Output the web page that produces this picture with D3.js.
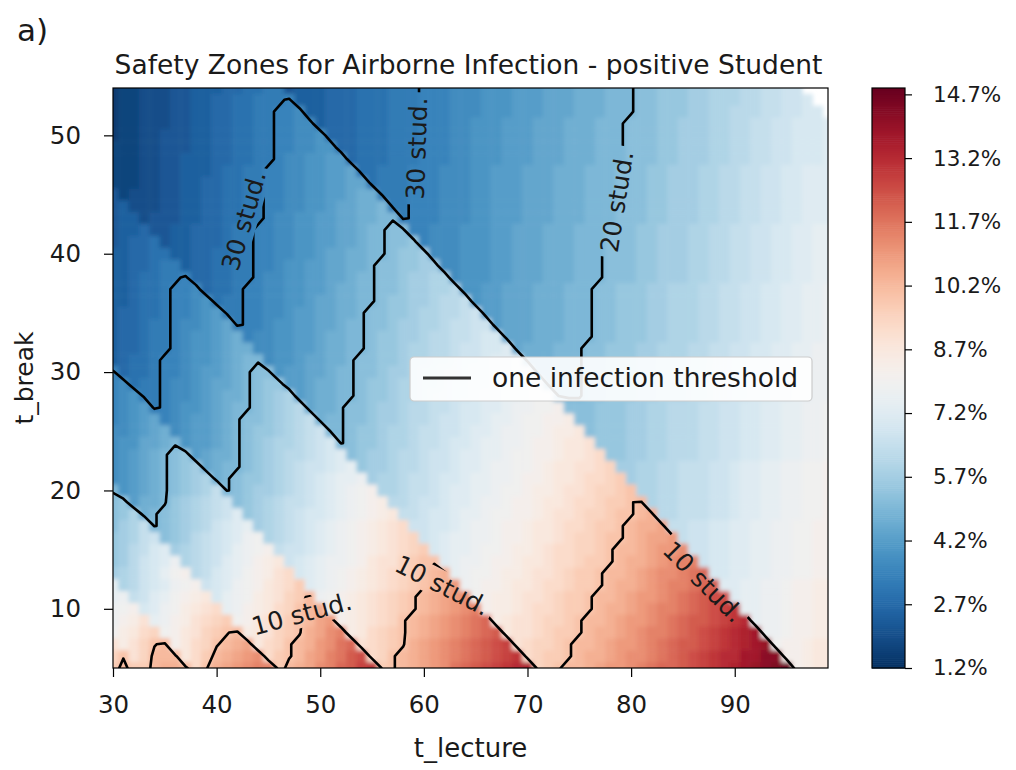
<!DOCTYPE html>
<html>
<head>
<meta charset="utf-8">
<script src="https://cdn.jsdelivr.net/npm/d3@7"></script>
<style>
  body { margin: 0; background: #fff; }
  text { font-family: "DejaVu Sans", sans-serif; fill: #1a1a1a; }
</style>
</head>
<body>
<svg id="chart" width="1016" height="770"></svg>
<script>
// Lecture length (columns) and break length (rows, top row = longest break), in minutes
const lectureMinutes = d3.range(30, 100);
const breakMinutes = d3.range(54, 4, -1);

// Infection risk per cell, one character per cell: risk = riskBase + riskStep * index in levelCodes.
// "." marks schedules that do not fit the day. Each row is written band by band
// (bands = number of lectures that fit into the school day).
const levelCodes = "0123456789ABCDEFGHIJKLMNOPQRSTUVWXYZabcdefghijklmnopqrstuvwxyz";
const riskBase = 1.2;
const riskStep = 0.25;
const riskRows = [
  "12233344555667788" + "4555666777888999AAABBBCCCDDDEEEFFFGGHHHIIJJJKKLLMM" + "...",
  "122333445566778889" + "555666777888999AAABBBCCCDDDEEEFFFGGHHHIIJJJKKLLMMN" + "..",
  "122333445566778899A" + "55666777888999AAABBBCCCDDDEEEFFFGGHHHIIJJKKKLLMMNN" + ".",
  "122333445566778899AA" + "5666777888999AABBBCCCDDDEEEFFFGGGHHIIIJJKKLLMMNNNO",
  "122334445566778899AAB" + "666777888999AABBBCCCDDDEEEFFFGGGHHIIIJJKKLLMMNNNO",
  "222334445566778899AABB" + "66777888999AABBBCCCDDDEEEFFFGGGHHIIIJJKKLLMMNNNO",
  "22233445556677889AABBCC" + "6777888999AABBBCCCDDDEEEFFFGGGHHIIIJJKKLLMMNNNO",
  "22233445556778899AABBCCD" + "77888999AAABBCCCDDDEEEFFFGGGHHIIIJJKKLLMMNNOOO",
  "22233445566778899AABBCCDD" + "7888999AAABBCCCDDDEEEFFFGGGHHIIIJJKKLLMMNNOOO",
  "4" + "2333445566778899AABBCCDEE" + "888999AAABBCCCDDDEEEFFFGGGHHIIIJJKKLLMMNNOOO",
  "45" + "333445566778899AABBCDDEEF" + "88999AAABBCCCDDDEEEFFFGGGHHIIIJJKKLLMMNNOOO",
  "455" + "3444556677889AABBCCDDEEFF" + "8999AAABBCCCDDDEEEFFFGGGHHIIIJJKKLLMMNNOOO",
  "4556" + "445566678899AABBCCDDEFFGG" + "99AAABBBCCDDDEEEFFFGGGHHIIIJJKKLLMMNNOOPP",
  "45667" + "45566678899AABBCCDDEFFGGH" + "9AAABBBCCDDDEEEFFFGGGHHIIIJJKKLLMMNNOOPP",
  "556677" + "5566778899AABBCDDEEFFGHHI" + "AAABBBCCDDDEEEFFFGGGHHIIIJJKKLLMMNNOOPP",
  "5566788" + "566778899ABBCCDDEEFGGHHII" + "AABBBCCDDDEEEFFFGGGHHIIIJJKKLLMMNNOOPP",
  "55677889" + "6677889AABBCCDDEFFGGHIIJJ" + "ABBBCCDDDEEEFFFGGGHHIIIJJKKLLMMNNOOPP",
  "55677899A" + "677899AABBCCDEEFFGGHIIJJK" + "BBCCDDDEEEFFFGGHHHIIJJJKKLLMMNNOOPPQ",
  "55677899AB" + "78899AABBCDDEEFFGHHIIJKKL" + "BCCDDDEEEFFFGGHHHIIJJJKKLLMMNNOOPPQ",
  "56677899ABC" + "8899AABCCDDEEFGGHHIJJKKLM" + "CCDDDEEEFFFGGHHHIIJJJKKLLMMNNOOPPQ",
  "5667889AABCD" + "899ABBCCDDEFFGGHIIJJKLLMM" + "CDDDEEEFFFGGHHHIIJJJKKLLMMNNOOPPQ",
  "5667889ABBCDE" + "9AABBCCDEEFFGHHIIJKKLLMNN" + "DDDEEEFFFGGHHHIIJJJKKLLMMNNOOPPQ",
  "5667889ABBCDEE" + "AABBCCDEEFFGHHIJJKKLMMNNO" + "DEEEFFFGGHHHIIJJJKKLLMMNNOOPPQQ",
  "5677899ABBCDEFF" + "ABBCDDEEFGGHHIJJKKLMMNOOP" + "EEEFFFGGHHHIIJJJKKLLMMNNOOPPQQ",
  "9" + "677899ABCCDEFGG" + "BCCDDEFFGGHIIJKKLLMNNOOPQ" + "EEFFFGGHHHIIJJJKKLLMMNNOOPPQQ",
  "9A" + "7889AABCDDEFGHH" + "CCDEEFFGHHIJJKKLMMNNOPPQQ" + "EFFFGGHHHIIJJJKKLLMMNNOOPPQQ",
  "9AB" + "889AABCDEEFGHIJ" + "CDEEFFGHHIJJKLLMMNOOPPQRR" + "FFFGGHHHIIJJJKKLLMMNNOOPPQQ",
  "9ABC" + "89ABBCDEFFGHIJK" + "DEEFGGHIIJKKLLMNNOOPQQRRS" + "GGGHHHIIJJKKKLLMMNNOOPPQQR",
  "9ABCD" + "9ABCCDEFGGHIJKL" + "EFFGGHIIJKKLMMNNOPPQRRSST" + "GGHHHIIJJKKKLLMMNNOOPPQQR",
  "AABCDE" + "ABCCDEFGHHIJKLM" + "FFGHHIJJKLLMMNOOPQQRRSTTU" + "GHHHIIJJKKKLLMMNNOOPPQQR",
  "ABBDDEF" + "BCCDEFGHIJJKLMN" + "FGHHIJJKLLMNNOPPQQRSSTUUV" + "HHHIIJJKKKLLMMNNOOPPQQR",
  "ABCDEFGH" + "CDEEFGHIJKKLMNO" + "GHIIJKKLMMNOOPPQRRSSTUUVW" + "HHIIJJKKKLLMMNNOOPPQQR",
  "ABCDEFGHI" + "DEFFGHIJKLMMNOP" + "HIIJKKLMMNOOPQQRRSTUUVVWX" + "IIJJKKLLLMMNOOPPQQRRS",
  "ABCDEFGHIJ" + "EFGHHIJKLMNOPPQ" + "IJJKLLMNNOPPQQRSSTUUVWWXY" + "IJJKKLLLMMNOOPPQQRRS",
  "F" + "BCDEFGHIJL" + "FGHIIJKLMNOPQRS" + "JJKLLMNOOPPQRRSTTUVVWXXYZ" + "JJKKLLLMMNOOPPQQRRS",
  "GH" + "CEEFHIJKLM" + "GHIJKLLMNOPQRST" + "KKLMMNOOPQQRSSTUUVWWXYYZa" + "JKKLLLMMNOOPPQQRRS",
  "GHJ" + "EFGHIJKLMO" + "HIJKLMNNOPQRSTU" + "LLMNNOPPQRRSSTUVVWXXYZZab" + "KKLLLMMNOOPPQQRRS",
  "GIJL" + "FGHIJKMNOP" + "IJKLMNOPQRSTUVW" + "MMNNOPQQRSSTUUVWWXYYZabbc" + "LLMMNNOOPPQQRRSS",
  "HIJLM" + "GHIKLMNOQR" + "JKLMNOPQRSTUVWX" + "MNOPPQQRSSTUUVWXXYZZabccd" + "LMMNNOOPPQQRRSS",
  "HIKLNO" + "IJKLMNPQRS" + "LMMNOPQRSTUVWXY" + "NOPPQRRSTTUVWWXXYZaabcdde" + "MMNNOOPPQQRRSS",
  "HIKMNOQ" + "JKLMOPQSTU" + "MNOPQQRSUVVXYZZ" + "OPQQRSSTUUVWWXYYZabbcdeff" + "MNNOOPPQQRRSS",
  "IJKMNPRS" + "KLNOPRSTVW" + "NOPQRSTUVWXYZab" + "PQRRSTTUVVWXYYZaabcdeefgh" + "NNOOPPQQRRSS",
  "P" + "JKMNOQRS" + "MNOQRSUVWY" + "OPQRSTUVWXYZabd" + "QRSSTUUVWWXYYZabbcdeffghi" + "OOPPQQRSSTT",
  "PQ" + "LMOPRSTU" + "NPQRTUVXYa" + "QRSTUVWXYZabcde" + "RSTTUVVWXYYZaabcddefghijj" + "OPPQQRSSTT",
  "QRS" + "NOQRTUVW" + "PQSTUWXZab" + "RSTUVWXYZabcdef" + "STTUVWWXYYZabbcdeffghijkl" + "PPQQRSSTT",
  "QSTV" + "PQSTVWXY" + "RSUVWYZacd" + "STUVWXZabcdefgh" + "TUVVWXXYZaabcddefghiijklm" + "PQQRSSTT",
  "RTUWX" + "RSUVXYZa" + "TUVXYZbcef" + "TUWXYZabcdefghi" + "UVVWXYYZabbcdeffghijklmno" + "QQRSSTT",
  "V" + "TVXZa" + "SUWXZabc" + "UWXZabdegh" + "VWXYZbcdefghijk" + "VWXXYZaabcddefghiijklmnop" + "RSSTUU",
  "XZ" + "VXaaa" + "UWYabcde" + "WYZacdfgij" + "WXZabcdefghijkl" + "WXYYZabbcdeefghijklmmooqq" + "SSTUU",
  "YaY" + "Yabba" + "WZbcdeff" + "Yabcefhikl" + "YZabcdeghijklmn" + "XYZaabcddefghhijklmnopqrs" + "STUU"
];

// One expected infection: risk threshold = 100 % / class size
const classSizes = [30, 20, 10];
const contourLabels = [
  { text: "30 stud.", lecture: 42.6, brk: 42.8, angle: -74 },
  { text: "30 stud.", lecture: 59.3, brk: 48.9, angle: -88 },
  { text: "20 stud.", lecture: 78.6, brk: 44.4, angle: -81 },
  { text: "10 stud.", lecture: 48.2, brk: 9.6, angle: -15 },
  { text: "10 stud.", lecture: 61.8, brk: 12.0, angle: 27 },
  { text: "10 stud.", lecture: 87.0, brk: 12.3, angle: 45 }
];

const xTicks = [30, 40, 50, 60, 70, 80, 90];
const yTicks = [10, 20, 30, 40, 50];
const colorTicks = [1.2, 2.7, 4.2, 5.7, 7.2, 8.7, 10.2, 11.7, 13.2, 14.7];
const riskDomain = [1.2, 14.85];

const W = 1016, H = 770;
const plot = { left: 113, right: 828, top: 88, bottom: 668 };
const svg = d3.select("#chart");
const defs = svg.append("defs");

const x = d3.scaleLinear().domain([30, 99]).range([plot.left, plot.right]);
const y = d3.scaleLinear().domain([5, 54]).range([plot.bottom, plot.top]);
const colorT = d3.scaleLinear().domain(riskDomain).range([1, 0]).clamp(true);
const color = v => d3.interpolateRdBu(colorT(v));

// decode rows
const grid = riskRows.map(row => Array.from(row, ch => ch === "." ? NaN : riskBase + riskStep * levelCodes.indexOf(ch)));
const badRows = grid.map((r, j) => r.length === lectureMinutes.length ? -1 : j).filter(j => j >= 0);

defs.append("clipPath").attr("id", "plotClip")
  .append("rect").attr("x", plot.left).attr("y", plot.top)
  .attr("width", plot.right - plot.left).attr("height", plot.bottom - plot.top);

// smooth shading between neighbouring cells
defs.append("filter").attr("id", "shade")
  .attr("x", "-2%").attr("y", "-2%").attr("width", "104%").attr("height", "104%")
  .append("feGaussianBlur").attr("stdDeviation", 2.2);

// heatmap cells
const cells = [];
grid.forEach((row, j) => row.forEach((v, i) => {
  if (!isNaN(v)) cells.push({ tl: lectureMinutes[i], tb: breakMinutes[j], v });
}));
svg.append("g").attr("clip-path", "url(#plotClip)")
  .append("g").attr("filter", "url(#shade)")
  .selectAll("rect").data(cells).join("rect")
  .attr("x", d => x(d.tl - 0.5))
  .attr("y", d => y(d.tb + 0.5))
  .attr("width", d => x(d.tl + 0.5) - x(d.tl - 0.5) + 0.5)
  .attr("height", d => y(d.tb - 0.5) - y(d.tb + 0.5) + 0.5)
  .attr("fill", d => color(d.v));

// contour lines (grid padded by one copied cell on each side so rings close outside the frame)
const nx = lectureMinutes.length + 2, ny = breakMinutes.length + 2;
const filled = grid.map(row => { let last = row[0]; return row.map(v => isNaN(v) ? last : (last = v)); });
const padded = new Float64Array(nx * ny);
for (let j = 0; j < ny; j++) {
  for (let i = 0; i < nx; i++) {
    const r = Math.min(Math.max(j - 1, 0), breakMinutes.length - 1);
    const c = Math.min(Math.max(i - 1, 0), lectureMinutes.length - 1);
    padded[j * nx + i] = filled[r][c];
  }
}
const thresholds = classSizes.map(n => 100 / n);
const contourSets = d3.contours().size([nx, ny]).thresholds(thresholds)(padded);
const gridToScreen = d3.geoTransform({
  point(px, py) { this.stream.point(x(lectureMinutes[0] - 1.5 + px), y(breakMinutes[0] + 1.5 - py)); }
});
const contourPath = d3.geoPath(gridToScreen);

// gaps in the lines under the inline labels
const mask = defs.append("mask").attr("id", "labelGaps")
  .attr("maskUnits", "userSpaceOnUse").attr("x", 0).attr("y", 0).attr("width", W).attr("height", H);
mask.append("rect").attr("x", 0).attr("y", 0).attr("width", W).attr("height", H).attr("fill", "white");

const clipG = svg.append("g").attr("clip-path", "url(#plotClip)");
clipG.append("g").attr("mask", "url(#labelGaps)")
  .selectAll("path").data(contourSets).join("path")
  .attr("d", contourPath)
  .attr("fill", "none").attr("stroke", "#000").attr("stroke-width", 2.6)
  .attr("stroke-linejoin", "round");

const labelTransform = d => `translate(${x(d.lecture)},${y(d.brk)}) rotate(${d.angle})`;
const labels = svg.append("g").selectAll("text").data(contourLabels).join("text")
  .attr("transform", labelTransform)
  .attr("text-anchor", "middle").attr("dy", "0.36em")
  .attr("font-size", 25).text(d => d.text);
labels.each(function (d) {
  const w = this.getComputedTextLength();
  mask.append("rect").attr("transform", labelTransform(d))
    .attr("x", -w / 2 - 5).attr("y", -14).attr("width", w + 10).attr("height", 28).attr("fill", "black");
});

// frame
svg.append("rect").attr("x", plot.left).attr("y", plot.top)
  .attr("width", plot.right - plot.left).attr("height", plot.bottom - plot.top)
  .attr("fill", "none").attr("stroke", "#000").attr("stroke-width", 1.2);

// axes
const styleAxis = size => g => {
  g.select(".domain").remove();
  g.selectAll(".tick line").attr("stroke", "#000").attr("stroke-width", 1.2);
  g.selectAll(".tick text").attr("font-size", size).attr("fill", "#1a1a1a")
    .attr("font-family", "DejaVu Sans, sans-serif");
};
svg.append("g").attr("transform", `translate(0,${plot.bottom})`)
  .call(d3.axisBottom(x).tickValues(xTicks).tickSize(9).tickPadding(19).tickFormat(d3.format("d")))
  .call(styleAxis(24.5));
svg.append("g").attr("transform", `translate(${plot.left},0)`)
  .call(d3.axisLeft(y).tickValues(yTicks).tickSize(9).tickPadding(23).tickFormat(d3.format("d")))
  .call(styleAxis(24.5));

svg.append("text").attr("x", (plot.left + plot.right) / 2).attr("y", 757)
  .attr("text-anchor", "middle").attr("font-size", 26).text("t_lecture");
svg.append("text").attr("transform", `translate(33,${(plot.top + plot.bottom) / 2}) rotate(-90)`)
  .attr("text-anchor", "middle").attr("font-size", 25).text("t_break");
svg.append("text").attr("x", (plot.left + plot.right) / 2 - 2).attr("y", 74)
  .attr("text-anchor", "middle").attr("font-size", 26.5)
  .text("Safety Zones for Airborne Infection - positive Student");
svg.append("text").attr("x", 17).attr("y", 41).attr("font-size", 31).text("a)");

// legend
const legend = svg.append("g").attr("transform", "translate(410,357)");
legend.append("rect").attr("width", 402).attr("height", 44).attr("rx", 4)
  .attr("fill", "#fff").attr("fill-opacity", 0.9).attr("stroke", "#cccccc").attr("stroke-width", 1.2);
legend.append("line").attr("x1", 13).attr("x2", 61).attr("y1", 21).attr("y2", 21)
  .attr("stroke", "#333").attr("stroke-width", 3);
legend.append("text").attr("x", 82).attr("y", 21).attr("dy", "0.35em")
  .attr("font-size", 26.5).text("one infection threshold");

// colorbar
const cb = { left: 872, right: 905 };
const cy = d3.scaleLinear().domain(riskDomain).range([plot.bottom, plot.top]);
const cbSteps = d3.range(0, 300).map(i => riskDomain[0] + (riskDomain[1] - riskDomain[0]) * i / 300);
const dv = (riskDomain[1] - riskDomain[0]) / 300;
svg.append("g").selectAll("rect").data(cbSteps).join("rect")
  .attr("x", cb.left).attr("width", cb.right - cb.left)
  .attr("y", d => cy(d + dv)).attr("height", d => cy(d) - cy(d + dv) + 0.6)
  .attr("fill", d => color(d + dv / 2));
svg.append("rect").attr("x", cb.left).attr("y", plot.top)
  .attr("width", cb.right - cb.left).attr("height", plot.bottom - plot.top)
  .attr("fill", "none").attr("stroke", "#000").attr("stroke-width", 1.2);
svg.append("g").attr("transform", `translate(${cb.right},0)`)
  .call(d3.axisRight(cy).tickValues(colorTicks).tickSize(7).tickPadding(21).tickFormat(d => d.toFixed(1) + "%"))
  .call(styleAxis(21.5));

if (badRows.length) {
  svg.append("text").attr("x", 10).attr("y", 765).attr("font-size", 12).attr("fill", "red")
    .text("row length mismatch: " + badRows.join(","));
}
</script>
</body>
</html>
